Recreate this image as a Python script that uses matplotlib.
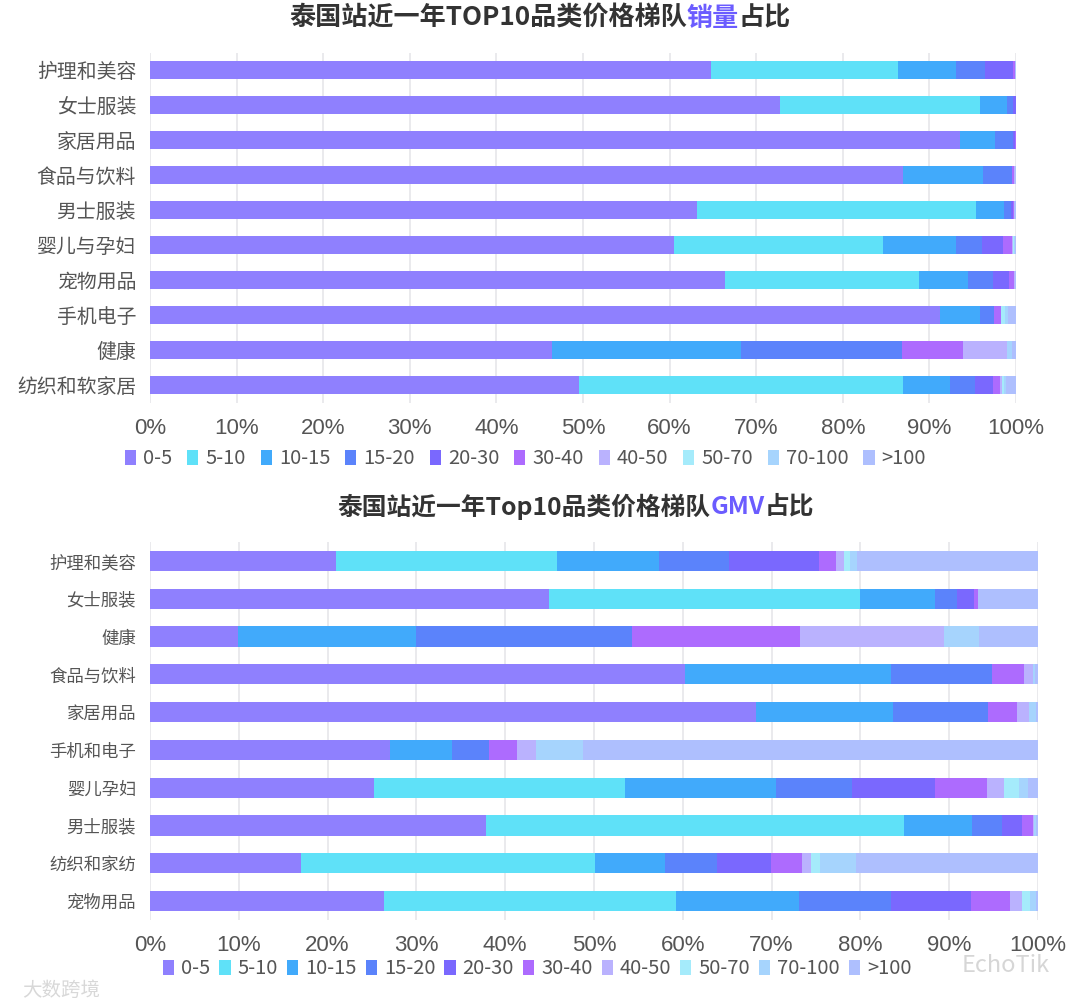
import matplotlib
matplotlib.use('Agg')
import matplotlib.pyplot as plt
from matplotlib.patches import Patch
import numpy as np

plt.rcParams['font.family'] = ['Noto Sans CJK SC', 'DejaVu Sans']

# price tiers and colours
tiers = ['0-5', '5-10', '10-15', '15-20', '20-30', '30-40', '40-50', '50-70', '70-100', '>100']
tier_colors = ['#8f80fe', '#5fe1f8', '#41aafb', '#5b83fb', '#7a68fe',
               '#ad6bfe', '#bab2fe', '#a5ebfb', '#a6d4fd', '#aebffe']

# ---- top chart: sales volume share (%), one list per tier ----
qty_cats = ['护理和美容', '女士服装', '家居用品', '食品与饮料', '男士服装',
            '婴儿与孕妇', '宠物用品', '手机电子', '健康', '纺织和软家居']
qty_0_5    = [64.8, 72.7, 93.5, 86.9, 63.2, 60.5, 66.4, 91.2, 46.4, 49.5]
qty_5_10   = [21.6, 23.2, 0.0, 0.0, 32.2, 24.1, 22.4, 0.0, 0.0, 37.4]
qty_10_15  = [6.7, 3.1, 4.1, 9.3, 3.2, 8.5, 5.6, 4.6, 21.8, 5.5]
qty_15_20  = [3.3, 0.6, 2.1, 3.3, 0.8, 3.0, 2.9, 1.7, 18.6, 2.9]
qty_20_30  = [3.2, 0.4, 0.2, 0.0, 0.3, 2.4, 1.9, 0.0, 0.0, 2.1]
qty_30_40  = [0.3, 0.0, 0.1, 0.3, 0.1, 1.0, 0.6, 0.8, 7.1, 0.8]
qty_40_50  = [0.0, 0.0, 0.0, 0.1, 0.0, 0.2, 0.1, 0.0, 5.1, 0.2]
qty_50_70  = [0.0, 0.0, 0.0, 0.0, 0.0, 0.1, 0.0, 0.4, 0.0, 0.2]
qty_70_100 = [0.0, 0.0, 0.0, 0.0, 0.0, 0.1, 0.0, 0.4, 0.5, 0.2]
qty_gt100  = [0.1, 0.0, 0.0, 0.1, 0.2, 0.1, 0.1, 0.9, 0.5, 1.2]

# ---- bottom chart: GMV share (%) ----
gmv_cats = ['护理和美容', '女士服装', '健康', '食品与饮料', '家居用品',
            '手机和电子', '婴儿孕妇', '男士服装', '纺织和家纺', '宠物用品']
gmv_0_5    = [20.9, 44.9, 9.9, 60.2, 68.2, 27.0, 25.2, 37.8, 17.0, 26.4]
gmv_5_10   = [24.9, 35.0, 0.0, 0.0, 0.0, 0.0, 28.3, 47.1, 33.1, 32.8]
gmv_10_15  = [11.5, 8.5, 20.1, 23.3, 15.5, 7.0, 17.0, 7.7, 7.9, 13.9]
gmv_15_20  = [7.9, 2.5, 24.3, 11.3, 10.7, 4.2, 8.6, 3.3, 5.8, 10.3]
gmv_20_30  = [10.1, 1.9, 0.0, 0.0, 0.0, 0.0, 9.3, 2.3, 6.1, 9.1]
gmv_30_40  = [1.9, 0.4, 18.9, 3.6, 3.2, 3.1, 5.9, 1.2, 3.5, 4.3]
gmv_40_50  = [1.0, 0.0, 16.2, 1.0, 1.4, 2.2, 1.9, 0.2, 1.0, 1.4]
gmv_50_70  = [0.6, 0.0, 0.0, 0.0, 0.0, 0.0, 1.7, 0.0, 1.1, 0.9]
gmv_70_100 = [0.8, 0.0, 4.0, 0.3, 0.8, 5.3, 1.0, 0.2, 4.0, 0.7]
gmv_gt100  = [20.4, 6.8, 6.6, 0.3, 0.2, 51.2, 1.1, 0.2, 20.5, 0.2]

qty_series = [qty_0_5, qty_5_10, qty_10_15, qty_15_20, qty_20_30,
              qty_30_40, qty_40_50, qty_50_70, qty_70_100, qty_gt100]
gmv_series = [gmv_0_5, gmv_5_10, gmv_10_15, gmv_15_20, gmv_20_30,
              gmv_30_40, gmv_40_50, gmv_50_70, gmv_70_100, gmv_gt100]

W, H = 1080, 1008
fig = plt.figure(figsize=(W / 100, H / 100), dpi=100)
renderer = fig.canvas.get_renderer()


def stacked(ax, cats, series, bar_h, cat_size):
    y = np.arange(len(cats))
    left = np.zeros(len(cats))
    for vals, col in zip(series, tier_colors):
        vals = np.array(vals)
        ax.barh(y, vals, left=left, height=bar_h, color=col, edgecolor='none', zorder=3)
        left += vals
    ax.set_ylim(len(cats) - 0.5, -0.5)
    ax.set_xlim(0, 100)
    ax.set_yticks(y)
    ax.set_yticklabels(cats, fontsize=cat_size, color='#555555')
    ax.set_xticks(np.arange(0, 101, 10))
    ax.set_xticklabels([f'{v}%' for v in range(0, 101, 10)], fontsize=16,
                       color='#555555', family='Liberation Sans')
    ax.tick_params(axis='both', length=0)
    ax.tick_params(axis='x', pad=11)
    ax.tick_params(axis='y', pad=10)
    ax.grid(axis='x', color='#e6e6ea', linewidth=1.2, zorder=0)
    for s in ax.spines.values():
        s.set_visible(False)


def text_w(s, size):
    t = fig.text(0, 0, s, fontsize=size, fontweight='bold')
    w = t.get_window_extent(renderer).width
    t.remove()
    return w


def color_title(y, cx, pieces, size):
    # title built from coloured pieces; each piece is right-aligned to where
    # it ends inside the full string so spacing matches one continuous text
    full = ''.join(s for s, _ in pieces)
    x0 = cx * W - text_w(full, size) / 2
    prefix = ''
    for s, c in pieces:
        prefix += s
        x_end = x0 + text_w(prefix, size)
        fig.text(x_end / W, y, s, color=c, fontsize=size, fontweight='bold',
                 va='center', ha='right')


ax1 = fig.add_axes([150 / W, 1 - 402.5 / H, 866 / W, 350 / H])
stacked(ax1, qty_cats, qty_series, 0.52, 14.3)

ax2 = fig.add_axes([150 / W, 1 - 920 / H, 888 / W, 378 / H])
stacked(ax2, gmv_cats, gmv_series, 0.53, 12.5)

color_title(1 - 18 / H, 540 / W,
            [('泰国站近一年TOP10品类价格梯队', '#333333'), ('销量', '#6b5cff'), ('占比', '#333333')], 18.8)
color_title(1 - 507 / H, 576 / W,
            [('泰国站近一年Top10品类价格梯队', '#333333'), ('GMV', '#6b5cff'), ('占比', '#333333')], 17.8)

handles = [Patch(facecolor=c, edgecolor='none', label=t) for t, c in zip(tiers, tier_colors)]
leg_kw = dict(ncol=10, frameon=False, fontsize=14.5, handlelength=0.55, handleheight=0.75,
              handletextpad=0.35, labelcolor='#555555', borderaxespad=0)
fig.legend(handles=handles, loc='center left', bbox_to_anchor=(117 / W, 1 - 459 / H),
           columnspacing=0.74, **leg_kw)
fig.legend(handles=handles, loc='center left', bbox_to_anchor=(155 / W, 1 - 969 / H),
           columnspacing=0.45, **leg_kw)

# watermarks
fig.text(22 / W, 1 - 990 / H, '大数跨境', fontsize=14, color='#d8d8d8', va='center')
fig.text(962 / W, 1 - 965 / H, 'EchoTik', fontsize=17, color='#bbbbbb',
         alpha=0.6, va='center')

fig.savefig('out.png', dpi=100)
